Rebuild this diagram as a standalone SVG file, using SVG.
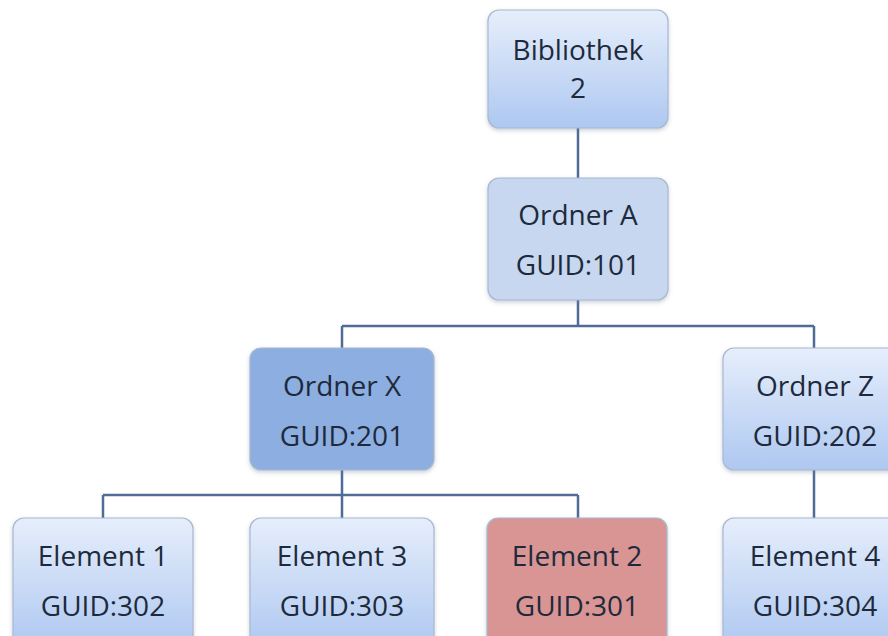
<svg xmlns="http://www.w3.org/2000/svg" width="888" height="636" viewBox="0 0 888 636">
  <defs>
    <linearGradient id="gBlue" x1="0" y1="0" x2="0" y2="1">
      <stop offset="0" stop-color="#e6eefb"/>
      <stop offset="1" stop-color="#aec8f1"/>
    </linearGradient>
    <filter id="shadow" x="-10%" y="-10%" width="120%" height="125%">
      <feDropShadow dx="0" dy="2" stdDeviation="2" flood-color="#6a7a90" flood-opacity="0.35"/>
    </filter>
  </defs>
  <style>
    .box { stroke: #a8b8cf; stroke-width: 1.2; filter: url(#shadow); }
    .grad { fill: url(#gBlue); }
    .lbl { font-family: "Open Sans", "Liberation Sans", sans-serif; font-size: 28px; fill: #1e2a3c; text-anchor: middle; }
    .wire { fill: none; stroke: #4f6b98; stroke-width: 2.5; }
  </style>
  <rect width="888" height="636" fill="#ffffff"/>

  <g id="connectors">
    <path class="wire" d="M578 128 V178"/>
    <path class="wire" d="M578 300 V326 M342 326 H814 M342 326 V348 M814 326 V348"/>
    <path class="wire" d="M342 470 V495 M103 495 H578 M103 495 V518 M342 495 V518 M578 495 V518"/>
    <path class="wire" d="M814 470 V518"/>
  </g>

  <g id="bibliothek">
    <rect class="box grad" x="488" y="10" width="180" height="118" rx="11"/>
    <text class="lbl" x="578" y="60">Bibliothek</text>
    <text class="lbl" x="578" y="98">2</text>
  </g>

  <g id="ordner-a">
    <rect class="box" x="488" y="178" width="180" height="122" rx="11" fill="#c6d7ef"/>
    <text class="lbl" x="578" y="225">Ordner A</text>
    <text class="lbl" x="578" y="275">GUID:101</text>
  </g>

  <g id="ordner-x">
    <rect class="box" x="250" y="348" width="184" height="122" rx="11" fill="#8daee0"/>
    <text class="lbl" x="342" y="396">Ordner X</text>
    <text class="lbl" x="342" y="446">GUID:201</text>
  </g>

  <g id="ordner-z">
    <rect class="box grad" x="723" y="348" width="184" height="122" rx="11"/>
    <text class="lbl" x="815" y="396">Ordner Z</text>
    <text class="lbl" x="815" y="446">GUID:202</text>
  </g>

  <g id="element-1">
    <rect class="box grad" x="13" y="518" width="180" height="130" rx="11"/>
    <text class="lbl" x="103" y="566">Element 1</text>
    <text class="lbl" x="103" y="616">GUID:302</text>
  </g>

  <g id="element-3">
    <rect class="box grad" x="250" y="518" width="184" height="130" rx="11"/>
    <text class="lbl" x="342" y="566">Element 3</text>
    <text class="lbl" x="342" y="616">GUID:303</text>
  </g>

  <g id="element-2">
    <rect class="box" x="487" y="518" width="180" height="130" rx="11" fill="#d99594"/>
    <text class="lbl" x="577" y="566">Element 2</text>
    <text class="lbl" x="577" y="616">GUID:301</text>
  </g>

  <g id="element-4">
    <rect class="box grad" x="723" y="518" width="184" height="130" rx="11"/>
    <text class="lbl" x="815" y="566">Element 4</text>
    <text class="lbl" x="815" y="616">GUID:304</text>
  </g>
</svg>
